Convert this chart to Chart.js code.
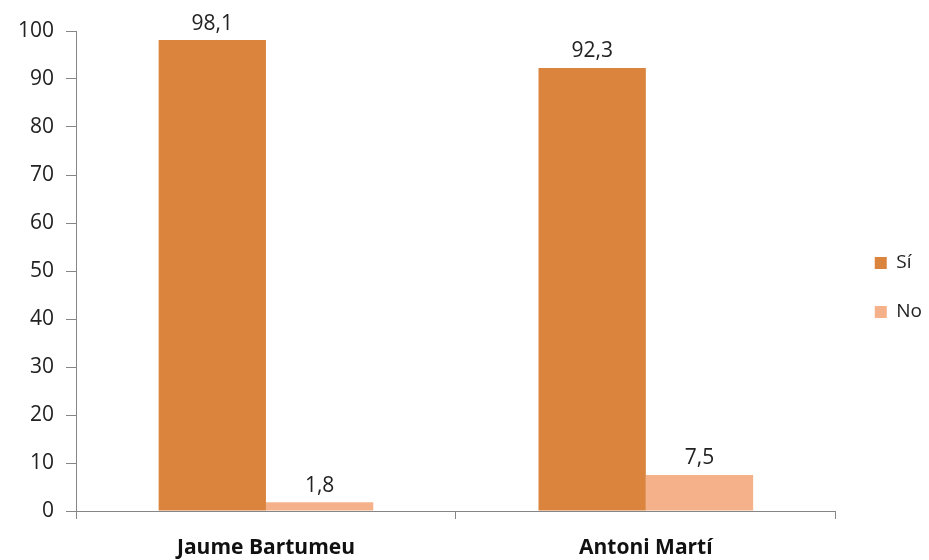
<!DOCTYPE html>
<html>
<head>
<meta charset="utf-8">
<script src="https://cdn.jsdelivr.net/npm/chart.js@4"></script>
<style>
  html, body { margin: 0; padding: 0; background: #fff; }
  #wrap { width: 929px; height: 560px; }
</style>
</head>
<body>
<div id="wrap"><canvas id="myChart"></canvas></div>
<script>
const categories = ["Jaume Bartumeu", "Antoni Martí"]
const siValues = [98.1, 92.3]
const noValues = [1.8, 7.5]
const seriesNames = ["Sí", "No"]

const fontFamily = "'Open Sans', sans-serif"

// etiquetes de valor damunt de cada barra, amb coma decimal
const valueLabels = {
  id: "valueLabels",
  afterDatasetsDraw(chart) {
    const ctx = chart.ctx
    ctx.save()
    ctx.font = "21px " + fontFamily
    ctx.fillStyle = "#222"
    ctx.textAlign = "center"
    ctx.textBaseline = "bottom"
    chart.data.datasets.forEach((ds, i) => {
      chart.getDatasetMeta(i).data.forEach((bar, j) => {
        const txt = String(ds.data[j]).replace(".", ",")
        ctx.fillText(txt, bar.x, bar.y - 6)
      })
    })
    ctx.restore()
  }
}

const data = {
  labels: categories,
  datasets: [
    { label: seriesNames[0], data: siValues, backgroundColor: "#da843e" },
    { label: seriesNames[1], data: noValues, backgroundColor: "#f5b28a" }
  ]
}

// eixos buits, només per deixar marge (a dalt i abans de la llegenda)
const emptyAxis = (position, size) => ({
  type: "linear",
  position,
  afterFit(scale) {
    if (position === "top") scale.height = size
    else scale.width = size
  },
  grid: { display: false },
  border: { display: false },
  ticks: { display: false }
})

const config = {
  type: "bar",
  data,
  plugins: [valueLabels],
  options: {
    responsive: true,
    maintainAspectRatio: false,
    animation: false,
    layout: { padding: { top: 15, left: 6, right: -3, bottom: 0 } },
    datasets: { bar: { categoryPercentage: 0.565, barPercentage: 1 } },
    scales: {
      x: {
        afterFit(scale) { scale.height = 49 },
        grid: { display: true, drawOnChartArea: false, color: "#868686", tickLength: 8, offset: true },
        border: { color: "#868686" },
        ticks: { color: "#111", padding: 16, font: { family: fontFamily, size: 21, weight: "bold" } }
      },
      y: {
        min: 0,
        max: 100,
        ticks: { stepSize: 10, color: "#222", padding: 12, font: { family: fontFamily, size: 21 } },
        grid: { display: true, drawOnChartArea: false, color: "#868686", tickLength: 10 },
        border: { color: "#868686" }
      },
      gapTop: emptyAxis("top", 16),
      gapRight: emptyAxis("right", 9)
    },
    plugins: {
      tooltip: { enabled: false },
      legend: {
        position: "right",
        labels: {
          boxWidth: 12,
          boxHeight: 12,
          padding: 30,
          color: "#222",
          font: { family: fontFamily, size: 19 }
        }
      }
    }
  }
}

new Chart(document.getElementById("myChart"), config)
</script>
</body>
</html>
